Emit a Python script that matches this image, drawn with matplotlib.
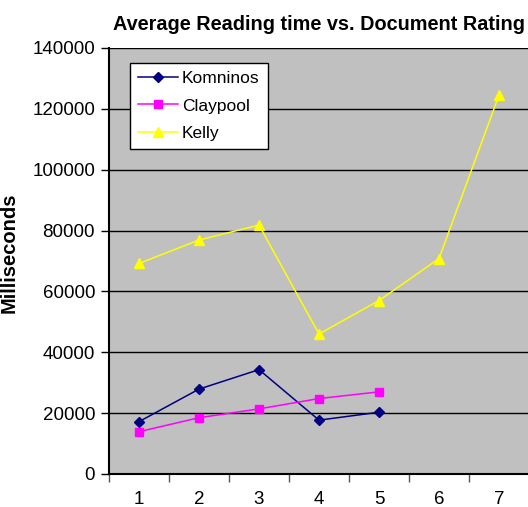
import matplotlib.pyplot as plt

plt.rcParams['font.family'] = ['Liberation Sans', 'DejaVu Sans']

# valori
ratings = [1, 2, 3, 4, 5, 6, 7]
komninos = [17200, 27900, 34300, 17700, 20300]
claypool = [13900, 18500, 21400, 24800, 27000]
kelly = [69200, 76900, 81800, 46000, 57000, 70800, 124500]
y_ticks = [0, 20000, 40000, 60000, 80000, 100000, 120000, 140000]

fig = plt.figure(figsize=(5.28, 5.07), dpi=100)
ax = fig.add_axes([109 / 528, 33 / 507, 420 / 528, 426 / 507])
ax.set_facecolor('#C0C0C0')

ax.plot(ratings[:len(komninos)], komninos, color='#000080', marker='D', markersize=5.5,
        linewidth=1.1, label='Komninos', zorder=3)
ax.plot(ratings[:len(claypool)], claypool, color='#FF00FF', marker='s', markersize=6,
        linewidth=1.1, label='Claypool', zorder=3)
ax.plot(ratings, kelly, color='#FFFF00', marker='^', markersize=7,
        linewidth=1.1, label='Kelly', zorder=3)

ax.set_xlim(0.5, 7.5)
ax.set_ylim(0, 140000)
ax.set_yticks(y_ticks)
ax.set_yticklabels([str(v) for v in y_ticks], fontsize=13.5)
ax.yaxis.grid(True, color='black', linewidth=1)
ax.set_axisbelow(True)

# tick principali tra le categorie, etichette al centro
ax.set_xticks([r + 0.5 for r in [0] + ratings[:-1]])
ax.set_xticklabels([])
ax.set_xticks(ratings, minor=True)
ax.set_xticklabels([str(r) for r in ratings], minor=True, fontsize=13.5)
ax.tick_params(axis='x', which='minor', length=0, pad=12)
ax.tick_params(axis='x', which='major', length=6, width=1, color='#555555')
ax.tick_params(axis='y', length=6, width=1, pad=4)

for s in ['top', 'right']:
    ax.spines[s].set_visible(False)
ax.spines['left'].set_linewidth(1.5)
ax.spines['bottom'].set_linewidth(1.5)

ax.set_ylabel('Milliseconds', fontsize=14.5, fontweight='bold')
ax.yaxis.set_label_coords(-0.215, 0.52)
ax.set_title('Average Reading time vs. Document Rating', fontsize=14.3,
             fontweight='bold', pad=13)

leg = ax.legend(loc='upper left', bbox_to_anchor=(0.05, 0.965), fontsize=12.5,
                handlelength=2.3, handletextpad=0.25, labelspacing=0.72,
                borderpad=0.45, borderaxespad=0, fancybox=False, framealpha=1,
                edgecolor='black')
leg.get_frame().set_linewidth(1)

fig.savefig('out.png', dpi=100)
